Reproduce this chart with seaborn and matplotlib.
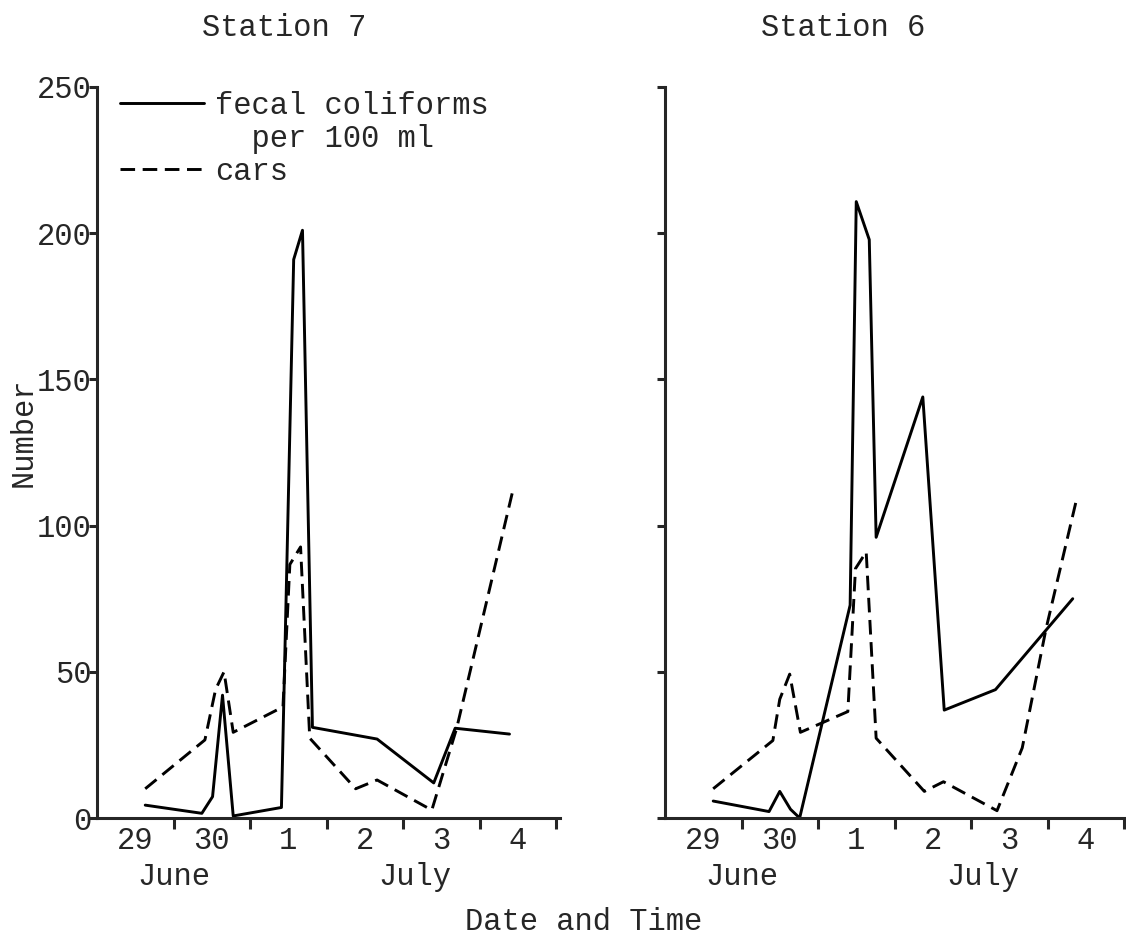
import matplotlib
matplotlib.use("Agg")
import matplotlib.pyplot as plt
import matplotlib.transforms as mtransforms
from matplotlib.lines import Line2D
import seaborn as sns
import pandas as pd

# ---------------- data (x in days since start of 29 June) ----------------
st7_fecal_x = [0.63, 1.37, 1.51, 1.64, 1.78, 2.41, 2.57, 2.685, 2.815, 3.66, 4.40, 4.68, 5.39]
st7_fecal_y = [4.4, 1.6, 7.3, 42, 0.7, 3.6, 191, 201, 31, 27, 12, 30.7, 28.7]
st7_cars_x = [0.63, 1.41, 1.55, 1.66, 1.78, 2.43, 2.52, 2.66, 2.78, 3.38, 3.66, 4.375, 4.70, 5.44]
st7_cars_y = [10, 26.7, 44, 50, 29.3, 38, 86.7, 92.7, 27.3, 10, 13, 2.7, 30.7, 112.7]

st6_fecal_x = [0.63, 1.36, 1.50, 1.64, 1.76, 2.42, 2.50, 2.67, 2.76, 3.37, 3.65, 4.32, 5.33]
st6_fecal_y = [5.8, 2.2, 9.1, 3.0, 0, 72.8, 210.8, 197.8, 96, 144, 36.9, 43.9, 75]
st6_cars_x = [0.63, 1.41, 1.50, 1.63, 1.77, 2.39, 2.49, 2.63, 2.76, 3.39, 3.64, 4.34, 4.67, 4.98, 5.38]
st6_cars_y = [10, 26.5, 40.6, 49.2, 29.3, 36.4, 85.3, 91, 27.3, 9.1, 12.4, 2.5, 24, 64.6, 109]

day_labels = ["29", "30", "1", "2", "3", "4"]
month_labels = ["June", "July"]
y_ticks = [0, 50, 100, 150, 200, 250]
station_titles = ["Station 7", "Station 6"]


def make_df(fx, fy, cx, cy):
    a = pd.DataFrame({"day": fx, "value": fy, "series": "fecal"})
    b = pd.DataFrame({"day": cx, "value": cy, "series": "cars"})
    return pd.concat([a, b], ignore_index=True)


df7 = make_df(st7_fecal_x, st7_fecal_y, st7_cars_x, st7_cars_y)
df6 = make_df(st6_fecal_x, st6_fecal_y, st6_cars_x, st6_cars_y)

# ---------------- style ----------------
sns.set_theme(style="ticks")
plt.rcParams["font.family"] = ["Liberation Mono", "DejaVu Sans Mono"]
plt.rcParams["axes.linewidth"] = 2.2

FS = 22
LW = 2.1
DASH = (5, 2.6)

W, H = 1126, 940
fig = plt.figure(figsize=(W / 100, H / 100), dpi=100)
# axes boxes in pixels: left axis x, bottom (value 0) y, width, top (value 250) y
ax_l = fig.add_axes([97 / W, (H - 818) / H, 463 / W, (818 - 87) / H])
ax_r = fig.add_axes([665 / W, (H - 818) / H, 459 / W, (818 - 87) / H])

for ax, df, show_y, xmax in [(ax_l, df7, True, 6.05), (ax_r, df6, False, 6.0)]:
    sns.lineplot(data=df, x="day", y="value", style="series",
                 dashes={"fecal": "", "cars": DASH},
                 color="black", linewidth=LW, estimator=None, sort=False,
                 legend=False, ax=ax)
    for ln in ax.get_lines():
        ln.set_clip_on(False)
    ax.set_xlim(0, xmax)
    ax.set_ylim(0, 250)
    sns.despine(ax=ax)
    ax.set_xlabel("")
    ax.set_ylabel("")
    # day boundaries as ticks, day labels at day centres
    ax.set_xticks([1, 2, 3, 4, 5, 6])
    ax.set_xticklabels([])
    ax.set_xticks([0.5 + i for i in range(len(day_labels))], minor=True)
    ax.set_xticklabels(day_labels, minor=True, fontsize=FS)
    ax.tick_params(axis="x", which="major", direction="out", length=8, width=2.2)
    ax.tick_params(axis="x", which="minor", length=0, pad=6)
    ax.set_yticks(y_ticks)
    if show_y:
        ax.set_yticklabels([str(t) for t in y_ticks], fontsize=FS)
        shift = mtransforms.ScaledTranslation(0, -8 / 72, fig.dpi_scale_trans)
        for lab in ax.get_yticklabels():
            lab.set_transform(lab.get_transform() + shift)
    else:
        ax.set_yticklabels([])
    ax.tick_params(axis="y", direction="out", length=6, width=2.2, pad=-2)
    trans = mtransforms.blended_transform_factory(ax.transData, ax.transAxes)
    ax.text(1.0, -0.081, month_labels[0], transform=trans, ha="center", va="center", fontsize=FS)
    ax.text(4.15, -0.081, month_labels[1], transform=trans, ha="center", va="center", fontsize=FS)

fig.text(24 / W, 1 - 432 / H, "Number", rotation=90, ha="center", va="center", fontsize=FS)

handles = [Line2D([], [], color="black", lw=LW),
           Line2D([], [], linestyle="none"),
           Line2D([], [], color="black", lw=LW, linestyle=(0, DASH))]
ax_l.legend(handles, ["fecal coliforms", "  per 100 ml", "cars"], loc="upper left",
            bbox_to_anchor=(0.05, 0.995), frameon=False, fontsize=FS,
            handlelength=2.75, handletextpad=0.35, labelspacing=0.1,
            borderpad=0, borderaxespad=0)

fig.text(284 / W, 1 - 28 / H, station_titles[0], ha="center", va="center", fontsize=FS)
fig.text(843 / W, 1 - 28 / H, station_titles[1], ha="center", va="center", fontsize=FS)
fig.text(584 / W, 1 - 922 / H, "Date and Time", ha="center", va="center", fontsize=FS)

fig.savefig("out.png", dpi=100, facecolor="white")
